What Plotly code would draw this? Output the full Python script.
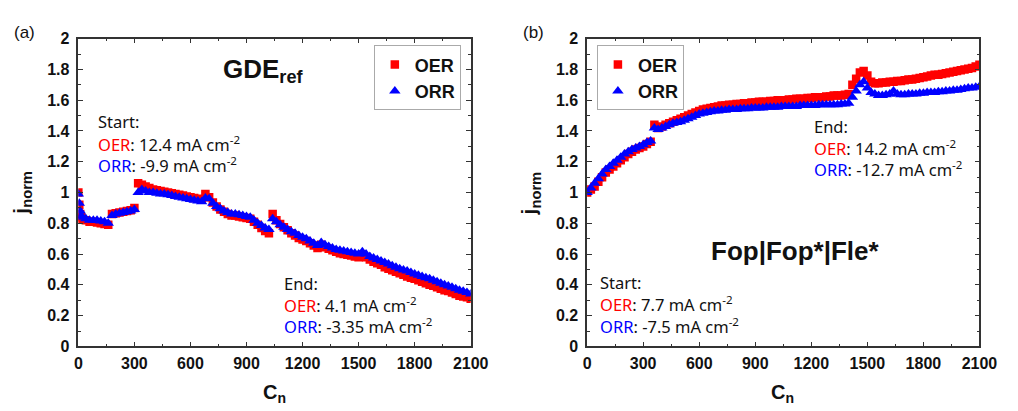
import plotly.graph_objects as go

# ---------------- data ----------------
cyc_a = [0, 5, 10, 15, 20, 40, 60, 80, 100, 120, 140, 160, 180, 200, 220, 240, 260, 280, 300,
         320, 340, 360, 380, 400, 420, 440, 460, 480, 500, 520, 540, 560, 580, 600, 620, 640,
         660, 680, 700, 720, 740, 760, 780, 800, 820, 840, 860, 880, 900, 920, 940, 960, 980,
         1000, 1020, 1040, 1060, 1080, 1100, 1120, 1140, 1160, 1180, 1200, 1220, 1240, 1260,
         1280, 1300, 1320, 1340, 1360, 1380, 1400, 1420, 1440, 1460, 1480, 1500, 1520, 1540,
         1560, 1580, 1600, 1620, 1640, 1660, 1680, 1700, 1720, 1740, 1760, 1780, 1800, 1820,
         1840, 1860, 1880, 1900, 1920, 1940, 1960, 1980, 2000, 2020, 2040, 2060, 2080, 2100]

oer_a = [1.00, 0.92, 0.86, 0.84, 0.83, 0.82, 0.81, 0.81, 0.805, 0.80, 0.795, 0.79, 0.86, 0.865,
         0.87, 0.875, 0.88, 0.885, 0.90,
         1.06, 1.05, 1.04, 1.03, 1.02, 1.015, 1.01, 1.005, 1.00, 0.995, 0.99, 0.985, 0.98, 0.975,
         0.97, 0.965, 0.96, 0.955, 0.99, 0.97, 0.935, 0.91, 0.89, 0.875, 0.86, 0.85, 0.85, 0.845,
         0.84, 0.835, 0.83, 0.81, 0.79, 0.77, 0.75, 0.735, 0.86, 0.82, 0.795, 0.775, 0.755, 0.735,
         0.72, 0.705, 0.695, 0.685, 0.67, 0.655, 0.64, 0.66, 0.645, 0.635, 0.625, 0.615, 0.605,
         0.60, 0.595, 0.59, 0.585, 0.58, 0.595, 0.58, 0.565, 0.55, 0.54, 0.53, 0.515, 0.505, 0.495,
         0.485, 0.475, 0.465, 0.455, 0.447, 0.44, 0.43, 0.42, 0.41, 0.40, 0.395, 0.385, 0.375,
         0.365, 0.36, 0.35, 0.34, 0.33, 0.325, 0.32, 0.31]

orr_a = [0.99, 0.93, 0.88, 0.85, 0.84, 0.83, 0.82, 0.82, 0.82, 0.815, 0.81, 0.80, 0.85, 0.86,
         0.865, 0.87, 0.875, 0.88, 0.89,
         1.00, 1.02, 1.01, 1.00, 1.00, 0.995, 0.99, 0.99, 0.985, 0.98, 0.975, 0.97, 0.965, 0.96,
         0.955, 0.95, 0.945, 0.94, 0.965, 0.96, 0.93, 0.91, 0.895, 0.88, 0.87, 0.86, 0.86, 0.855,
         0.85, 0.845, 0.84, 0.82, 0.80, 0.785, 0.77, 0.76, 0.83, 0.81, 0.79, 0.775, 0.76, 0.745,
         0.735, 0.72, 0.71, 0.70, 0.685, 0.67, 0.655, 0.675, 0.66, 0.65, 0.64, 0.63, 0.625, 0.62,
         0.615, 0.61, 0.605, 0.60, 0.615, 0.60, 0.585, 0.575, 0.565, 0.555, 0.545, 0.535, 0.525,
         0.515, 0.505, 0.497, 0.49, 0.48, 0.47, 0.462, 0.455, 0.447, 0.44, 0.43, 0.42, 0.41,
         0.40, 0.393, 0.385, 0.375, 0.365, 0.358, 0.35, 0.34]

cyc_b = [0, 20, 40, 60, 80, 100, 120, 140, 160, 180, 200, 220, 240, 260, 280, 300, 320, 340,
         360, 380, 400, 420, 440, 460, 480, 500, 520, 540, 560, 580, 600, 620, 640, 660, 680,
         700, 720, 740, 760, 780, 800, 820, 840, 860, 880, 900, 920, 940, 960, 980, 1000, 1020,
         1040, 1060, 1080, 1100, 1120, 1140, 1160, 1180, 1200, 1220, 1240, 1260, 1280, 1300,
         1320, 1340, 1360, 1380, 1400, 1420, 1440, 1460, 1480, 1500, 1520, 1540, 1560, 1580,
         1600, 1620, 1640, 1660, 1680, 1700, 1720, 1740, 1760, 1780, 1800, 1820, 1840, 1860,
         1880, 1900, 1920, 1940, 1960, 1980, 2000, 2020, 2040, 2060, 2080, 2100]

oer_b = [1.00, 1.02, 1.04, 1.07, 1.10, 1.13, 1.15, 1.17, 1.19, 1.21, 1.23, 1.25, 1.265, 1.28,
         1.29, 1.30, 1.315, 1.33, 1.44, 1.42, 1.43, 1.44, 1.45, 1.46, 1.47, 1.48, 1.49, 1.50,
         1.51, 1.52, 1.53, 1.54, 1.545, 1.55, 1.555, 1.56, 1.565, 1.565, 1.57, 1.57, 1.575,
         1.575, 1.58, 1.58, 1.585, 1.585, 1.59, 1.59, 1.59, 1.595, 1.595, 1.60, 1.60, 1.60,
         1.605, 1.605, 1.61, 1.61, 1.61, 1.615, 1.615, 1.62, 1.62, 1.62, 1.625, 1.625, 1.63,
         1.63, 1.63, 1.635, 1.64, 1.70, 1.74, 1.78, 1.79, 1.76, 1.72, 1.71, 1.71, 1.715, 1.715,
         1.72, 1.72, 1.725, 1.725, 1.73, 1.735, 1.735, 1.74, 1.745, 1.75, 1.755, 1.76, 1.765,
         1.765, 1.77, 1.775, 1.78, 1.785, 1.79, 1.795, 1.80, 1.805, 1.81, 1.82, 1.83]

orr_b = [1.00, 1.03, 1.06, 1.09, 1.12, 1.15, 1.17, 1.19, 1.21, 1.23, 1.25, 1.265, 1.28, 1.29,
         1.30, 1.31, 1.325, 1.335, 1.42, 1.41, 1.42, 1.43, 1.44, 1.45, 1.455, 1.46, 1.47, 1.48,
         1.49, 1.50, 1.51, 1.515, 1.52, 1.525, 1.53, 1.53, 1.535, 1.535, 1.54, 1.54, 1.54,
         1.545, 1.545, 1.545, 1.55, 1.55, 1.55, 1.55, 1.555, 1.555, 1.555, 1.555, 1.56, 1.56,
         1.56, 1.56, 1.56, 1.565, 1.565, 1.565, 1.565, 1.565, 1.57, 1.57, 1.57, 1.57, 1.57,
         1.57, 1.575, 1.575, 1.58, 1.62, 1.66, 1.70, 1.72, 1.68, 1.65, 1.64, 1.63, 1.63, 1.635,
         1.64, 1.66, 1.64, 1.635, 1.635, 1.64, 1.64, 1.64, 1.645, 1.645, 1.65, 1.65, 1.65,
         1.655, 1.655, 1.66, 1.66, 1.665, 1.665, 1.67, 1.675, 1.68, 1.68, 1.685, 1.69]

x_ticks = [0, 300, 600, 900, 1200, 1500, 1800, 2100]
y_ticks = [0, 0.2, 0.4, 0.6, 0.8, 1.0, 1.2, 1.4, 1.6, 1.8, 2.0]
y_ticktext = ["0", "0.2", "0.4", "0.6", "0.8", "1", "1.2", "1.4", "1.6", "1.8", "2"]

# ---------------- figure ----------------
W, H = 1018, 411
RED, BLUE = "#ff0000", "#0000ff"
AX = "#333333"
TICKFONT = dict(family="Liberation Sans", size=16, color="#111111", weight="bold")
TXT = "Noto Sans"

def px(x):
    return x / W

def py(y):
    return 1 - y / H

SQ = dict(symbol="square", size=8.5, color=RED)
TR = dict(symbol="triangle-up", size=10, color=BLUE)

fig = go.Figure()
fig.add_trace(go.Scatter(x=cyc_a, y=oer_a, mode="markers", name="OER", xaxis="x", yaxis="y",
                         marker=SQ, legend="legend"))
fig.add_trace(go.Scatter(x=cyc_a, y=orr_a, mode="markers", name="ORR", xaxis="x", yaxis="y",
                         marker=TR, legend="legend"))
fig.add_trace(go.Scatter(x=cyc_b, y=oer_b, mode="markers", name="OER", xaxis="x2", yaxis="y2",
                         marker=SQ, legend="legend2"))
fig.add_trace(go.Scatter(x=cyc_b, y=orr_b, mode="markers", name="ORR", xaxis="x2", yaxis="y2",
                         marker=TR, legend="legend2"))

def xaxis(domain, anchor):
    return dict(domain=domain, anchor=anchor, range=[0, 2100], tickvals=x_ticks,
                showline=True, linecolor=AX, linewidth=1.5, mirror="ticks",
                ticks="inside", ticklen=5, tickwidth=1.2, tickcolor=AX,
                minor=dict(dtick=150, tick0=0, ticks="inside", ticklen=3, tickwidth=1.2, tickcolor=AX),
                showgrid=False, zeroline=False, tickfont=TICKFONT, ticklabelstandoff=2)

def yaxis(anchor):
    return dict(domain=[py(353), py(32)], anchor=anchor, range=[0, 2], tickvals=y_ticks,
                ticktext=y_ticktext, showline=True, linecolor=AX, linewidth=1.5, mirror="ticks",
                ticks="inside", ticklen=5, tickwidth=1.2, tickcolor=AX,
                minor=dict(dtick=0.1, tick0=0, ticks="inside", ticklen=3, tickwidth=1.2, tickcolor=AX),
                showgrid=False, zeroline=False, tickfont=TICKFONT, ticklabelstandoff=4)

legend_style = dict(font=dict(family="Liberation Sans", size=18, color="#111111", weight="bold"),
                    bordercolor="#aaaaaa", borderwidth=1, bgcolor="white",
                    xanchor="left", yanchor="top", tracegroupgap=0, itemwidth=30)

fig.update_layout(
    width=W, height=H, margin=dict(l=0, r=0, t=0, b=0),
    paper_bgcolor="white", plot_bgcolor="white",
    xaxis=xaxis([px(76), px(477)], "y"),
    yaxis=yaxis("x"),
    xaxis2=xaxis([px(596), px(997)], "y2"),
    yaxis2=yaxis("x2"),
    legend=dict(x=px(378), y=py(39), **legend_style),
    legend2=dict(x=px(606), y=py(39), **legend_style),
)

ann = []

def text(x, y, s, size=16.5, family=TXT, bold=False, xanchor="left", color="#111111", angle=0):
    ann.append(dict(x=px(x), y=py(y), xref="paper", yref="paper", text=s, showarrow=False,
                    xanchor=xanchor, yanchor="middle", textangle=angle,
                    font=dict(family=family, size=size, color=color,
                              weight="bold" if bold else "normal")))

def red(s):
    return f"<span style='color:{RED}'>{s}</span>"

def blue(s):
    return f"<span style='color:{BLUE}'>{s}</span>"

# panel labels
text(8, 26, "(a)", size=17, family="Liberation Sans")
text(528, 26, "(b)", size=17, family="Liberation Sans")

# axis titles
for cx in (276, 796):
    text(cx, 402, "C<sub>n</sub>", size=20, family="Liberation Sans", bold=True, xanchor="center")
text(18, 193, "j<sub>norm</sub>", size=21, family="Liberation Sans", bold=True, xanchor="center", angle=-90)
text(538, 193, "j<sub>norm</sub>", size=21, family="Liberation Sans", bold=True, xanchor="center", angle=-90)

# panel (a)
text(265, 65, "GDE<sub>ref</sub>", size=26, family="Liberation Sans", bold=True, xanchor="center")
text(94, 118, "Start:")
text(94, 142, red("OER") + ": 12.4 mA cm<sup>-2</sup>")
text(94, 164, blue("ORR") + ": -9.9 mA cm<sup>-2</sup>")
text(284, 287, "End:")
text(284, 310, red("OER") + ": 4.1 mA cm<sup>-2</sup>")
text(284, 332, blue("ORR") + ": -3.35 mA cm<sup>-2</sup>")

# panel (b)
text(809, 253, "Fop|Fop*|Fle*", size=26, family="Liberation Sans", bold=True, xanchor="center")
text(826, 124, "End:")
text(826, 146, red("OER") + ": 14.2 mA cm<sup>-2</sup>")
text(826, 168, blue("ORR") + ": -12.7 mA cm<sup>-2</sup>")
text(607, 286, "Start:")
text(607, 309, red("OER") + ": 7.7 mA cm<sup>-2</sup>")
text(607, 332, blue("ORR") + ": -7.5 mA cm<sup>-2</sup>")

fig.update_layout(annotations=ann)
fig.write_html("out.html",
               post_script="document.body.style.margin='0';document.body.style.overflow='hidden';")
